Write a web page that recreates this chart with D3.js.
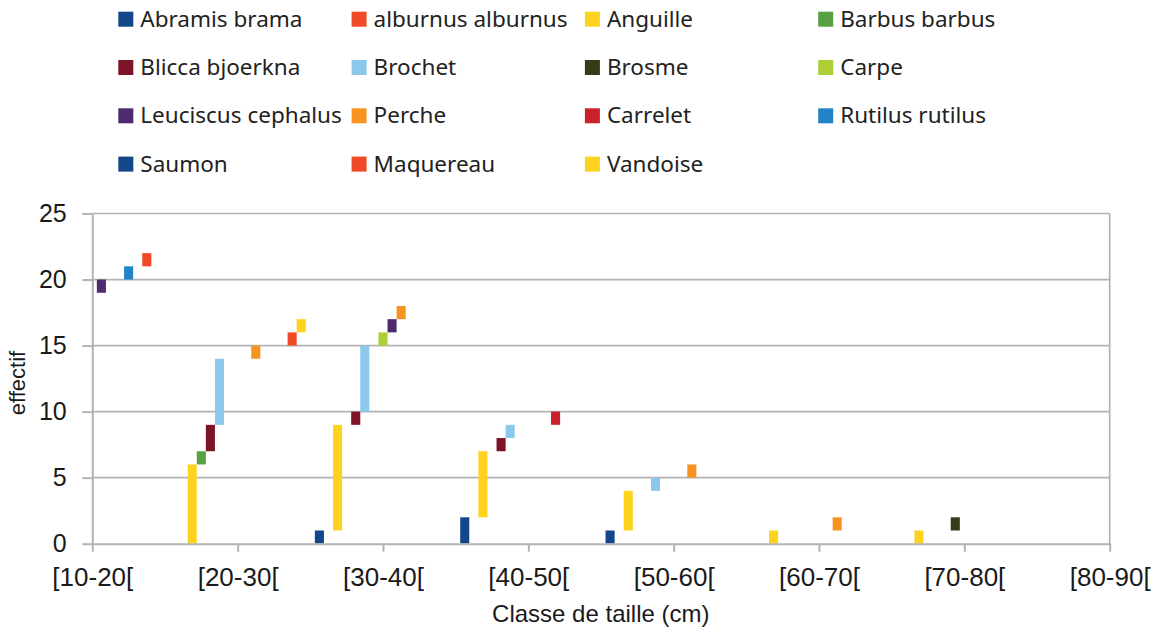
<!DOCTYPE html>
<html>
<head>
<meta charset="utf-8">
<script src="https://cdn.jsdelivr.net/npm/d3@7"></script>
<style>
  body { margin: 0; background: #fff; }
  svg { display: block; }
</style>
</head>
<body>
<svg id="chart" width="1161" height="633"></svg>
<script>
(function () {

  // size classes (x axis)
  const classes = ["[10-20[", "[20-30[", "[30-40[", "[40-50[", "[50-60[", "[60-70[", "[70-80[", "[80-90["];

  const species = ["Abramis brama", "alburnus alburnus", "Anguille", "Barbus barbus",
    "Blicca bjoerkna", "Brochet", "Brosme", "Carpe",
    "Leuciscus cephalus", "Perche", "Carrelet", "Rutilus rutilus",
    "Saumon", "Maquereau", "Vandoise"];

  const colors = ["#13478a", "#f04a26", "#fdd31f", "#58a044",
    "#7d1326", "#8cc7ec", "#333e18", "#aece38",
    "#4d2b6e", "#f7941f", "#c9222a", "#2283c8",
    "#13478a", "#f04a26", "#fdd31f"];

  // effectif per size class, one array per species
  const abramis   = [2, 0, 1, 2, 1, 0, 0, 0];
  const alburnus  = [9, 0, 0, 0, 0, 0, 0, 0];
  const anguille  = [3, 6, 8, 5, 3, 1, 1, 0];
  const barbus    = [1, 1, 0, 0, 0, 0, 0, 0];
  const blicca    = [2, 2, 1, 1, 0, 0, 0, 0];
  const brochet   = [2, 5, 5, 1, 1, 0, 0, 0];
  const brosme    = [0, 0, 0, 0, 0, 0, 1, 0];
  const carpe     = [0, 0, 1, 0, 0, 0, 0, 0];
  const leuciscus = [1, 0, 1, 0, 0, 0, 0, 0];
  const perche    = [0, 1, 1, 0, 1, 1, 0, 0];
  const carrelet  = [0, 0, 0, 1, 0, 0, 0, 0];
  const rutilus   = [1, 0, 0, 0, 0, 0, 0, 0];
  const saumon    = [0, 0, 0, 0, 0, 0, 0, 0];
  const maquereau = [1, 1, 0, 0, 0, 0, 0, 0];
  const vandoise  = [0, 1, 0, 0, 0, 0, 0, 0];

  const yTicks = [0, 5, 10, 15, 20, 25];

  const values = [abramis, alburnus, anguille, barbus, blicca, brochet, brosme, carpe,
    leuciscus, perche, carrelet, rutilus, saumon, maquereau, vandoise];

  // one row per class for d3.stack
  const table = classes.map(function (c, j) {
    const row = { classe: c };
    species.forEach(function (s, i) { row[s] = values[i][j]; });
    return row;
  });

  const svg = d3.select("#chart");
  const left = 92.3, right = 1109.7, top = 213.5, bottom = 543.7;
  const gridColor = "#b3b3b3";

  const x = d3.scalePoint().domain(classes).range([left, right]);
  const u = x.step() / 16;
  const xs = d3.scaleBand().domain(species).range([-7.5 * u, 7.5 * u]);
  const y = d3.scaleLinear().domain([0, 25]).range([bottom, top]);

  svg.append("defs").append("clipPath").attr("id", "plot")
    .append("rect").attr("x", left).attr("y", top - 2)
    .attr("width", right - left).attr("height", bottom - top + 2);

  // gridlines
  svg.append("g")
    .selectAll("line").data(yTicks.slice(1)).enter().append("line")
    .attr("x1", left).attr("x2", right)
    .attr("y1", function (d) { return y(d); }).attr("y2", function (d) { return y(d); })
    .attr("stroke", gridColor).attr("stroke-width", 1.7);

  // right border
  svg.append("line")
    .attr("x1", right).attr("x2", right).attr("y1", top).attr("y2", bottom)
    .attr("stroke", gridColor).attr("stroke-width", 1.7);

  // bars
  const stacked = d3.stack().keys(species)(table);

  svg.append("g").attr("clip-path", "url(#plot)")
    .selectAll("g").data(stacked).enter().append("g")
    .attr("fill", function (d, i) { return colors[i]; })
    .selectAll("rect")
    .data(function (d) { return d.filter(function (p) { return p[1] > p[0]; }).map(function (p) { return { key: d.key, p: p }; }); })
    .enter().append("rect")
    .attr("x", function (d) { return x(d.p.data.classe) + xs(d.key); })
    .attr("width", xs.bandwidth())
    .attr("y", function (d) { return y(d.p[1]); })
    .attr("height", function (d) { return y(d.p[0]) - y(d.p[1]); });

  // axes
  const yAxis = svg.append("g")
    .attr("transform", "translate(" + left + ",0)")
    .call(d3.axisLeft(y).tickValues(yTicks).tickSizeInner(10).tickSizeOuter(0).tickPadding(15.6));

  const xAxis = svg.append("g")
    .attr("transform", "translate(0," + bottom + ")")
    .call(d3.axisBottom(x).tickSizeInner(8).tickSizeOuter(0).tickPadding(15.7));

  [yAxis, xAxis].forEach(function (g) {
    g.select(".domain").attr("stroke", gridColor).attr("stroke-width", 2);
    g.selectAll(".tick line").attr("stroke", gridColor).attr("stroke-width", 2);
    g.selectAll("text").attr("fill", "#1a1a1a").attr("font-family", "'Liberation Sans', Arial, sans-serif");
  });
  yAxis.selectAll("text").attr("font-size", 25);
  xAxis.selectAll("text").attr("font-size", 26);

  // axis titles
  svg.append("text")
    .attr("x", 600.8).attr("y", 621.5)
    .attr("text-anchor", "middle")
    .attr("font-family", "'Liberation Sans', Arial, sans-serif")
    .attr("font-size", 24).attr("fill", "#1a1a1a")
    .text("Classe de taille (cm)");

  svg.append("text")
    .attr("transform", "translate(25,383) rotate(-90)")
    .attr("text-anchor", "middle")
    .attr("font-family", "'Liberation Sans', Arial, sans-serif")
    .attr("font-size", 22).attr("fill", "#1a1a1a")
    .text("effectif");

  // legend, 4 columns
  const legend = svg.append("g")
    .selectAll("g").data(species).enter().append("g")
    .attr("transform", function (d, i) {
      return "translate(" + (118.3 + (i % 4) * 233.3) + "," + (26.7 + Math.floor(i / 4) * 48.3) + ")";
    });

  legend.append("rect")
    .attr("x", 0).attr("y", -15).attr("width", 15).attr("height", 15)
    .attr("fill", function (d, i) { return colors[i]; });

  legend.append("text")
    .attr("x", 22).attr("y", 0)
    .attr("font-family", "'Noto Sans', sans-serif")
    .attr("font-size", 22.5).attr("fill", "#222")
    .text(function (d) { return d; });

})();
</script>
</body>
</html>
